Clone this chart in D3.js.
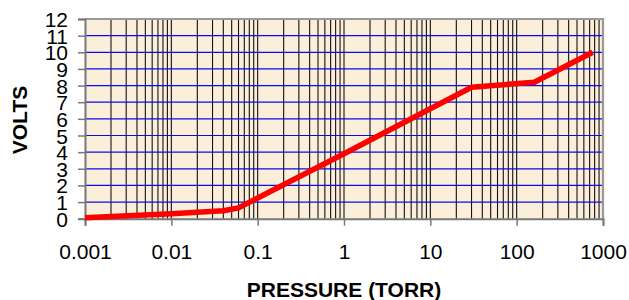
<!DOCTYPE html>
<html>
<head>
<meta charset="utf-8">
<script src="https://cdn.jsdelivr.net/npm/d3@7"></script>
<style>
  body { margin: 0; background: #fff; }
  svg { display: block; font-family: Arial, "Liberation Sans", sans-serif; }
</style>
</head>
<body>
<svg id="chart" width="629" height="300"></svg>
<script>
"use strict";

// pressure (torr) vs volts
var pressure = [0.001, 0.01, 0.04, 0.06, 1, 30, 160, 760];
var volts    = [0.05, 0.3, 0.48, 0.65, 3.9, 7.9, 8.2, 10];
var xTicks = [0.001, 0.01, 0.1, 1, 10, 100, 1000];
var xTickLabels = ["0.001", "0.01", "0.1", "1", "10", "100", "1000"];
var yTicks = [0, 1, 2, 3, 4, 5, 6, 7, 8, 9, 10, 11, 12];

var svg = d3.select("#chart");
var plotL = 85, plotR = 603, plotT = 19, plotB = 218.7;

var x = d3.scaleLog().domain([0.001, 1000]).range([plotL, plotR]);
var y = d3.scaleLinear().domain([0, 12]).range([plotB, plotT]);

// plot background
svg.append("rect")
  .attr("x", plotL).attr("y", plotT)
  .attr("width", plotR - plotL).attr("height", plotB - plotT)
  .attr("fill", "#fcefda");

// vertical log grid (1..9 per decade)
var vGrid = [];
for (var k = -3; k <= 2; k++) {
  for (var m = 1; m <= 9; m++) {
    vGrid.push(m * Math.pow(10, k));
  }
}

svg.append("g").selectAll("line")
  .data(vGrid.filter(function(d) { return d > 0.001; }))
  .enter().append("line")
  .attr("x1", function(d) { return x(d); })
  .attr("x2", function(d) { return x(d); })
  .attr("y1", plotT).attr("y2", plotB)
  .attr("stroke", "#111")
  .attr("stroke-width", 1.1);

// horizontal grid
svg.append("g").selectAll("line")
  .data(yTicks.filter(function(d) { return d > 0 && d < 12; }))
  .enter().append("line")
  .attr("x1", plotL).attr("x2", plotR)
  .attr("y1", function(d) { return y(d); })
  .attr("y2", function(d) { return y(d); })
  .attr("stroke", "#0a0af0")
  .attr("stroke-width", 1.2);

// frame: top and right border
svg.append("path")
  .attr("d", "M" + plotL + "," + plotT + "H" + plotR + "V" + plotB)
  .attr("fill", "none")
  .attr("stroke", "#999")
  .attr("stroke-width", 2.2);

// axes
var yAxis = d3.axisLeft(y).tickValues(yTicks).tickSize(7).tickPadding(10);
var gy = svg.append("g").attr("transform", "translate(" + plotL + ",0)").call(yAxis);
gy.select(".domain").attr("stroke", "#777").attr("stroke-width", 2);
gy.selectAll(".tick line").attr("stroke", "#777").attr("stroke-width", 1.5);
gy.selectAll("text")
  .attr("font-size", "21px")
  .attr("fill", "#000")
  .attr("dy", "0.36em");

var xAxis = d3.axisBottom(x).tickValues(xTicks)
  .tickFormat(function(d, i) { return xTickLabels[i]; })
  .tickSize(7).tickPadding(18);
var gx = svg.append("g").attr("transform", "translate(0," + plotB + ")").call(xAxis);
gx.select(".domain").attr("stroke", "#777").attr("stroke-width", 2);
gx.selectAll(".tick line").attr("stroke", "#777").attr("stroke-width", 1.5);
gx.selectAll("text")
  .attr("font-size", "21px")
  .attr("fill", "#000");

// the data line
var line = d3.line()
  .x(function(d, i) { return x(pressure[i]); })
  .y(function(d) { return y(d); });

svg.append("path")
  .datum(volts)
  .attr("d", line)
  .attr("fill", "none")
  .attr("stroke", "#ff0000")
  .attr("stroke-width", 5.5)
  .attr("stroke-linejoin", "round");

// axis titles
svg.append("text")
  .attr("x", 344).attr("y", 297)
  .attr("text-anchor", "middle")
  .attr("font-size", "21px")
  .attr("font-weight", "bold")
  .text("PRESSURE (TORR)");

svg.append("text")
  .attr("transform", "translate(26.5,120) rotate(-90)")
  .attr("text-anchor", "middle")
  .attr("font-size", "21px")
  .attr("font-weight", "bold")
  .text("VOLTS");
</script>
</body>
</html>
